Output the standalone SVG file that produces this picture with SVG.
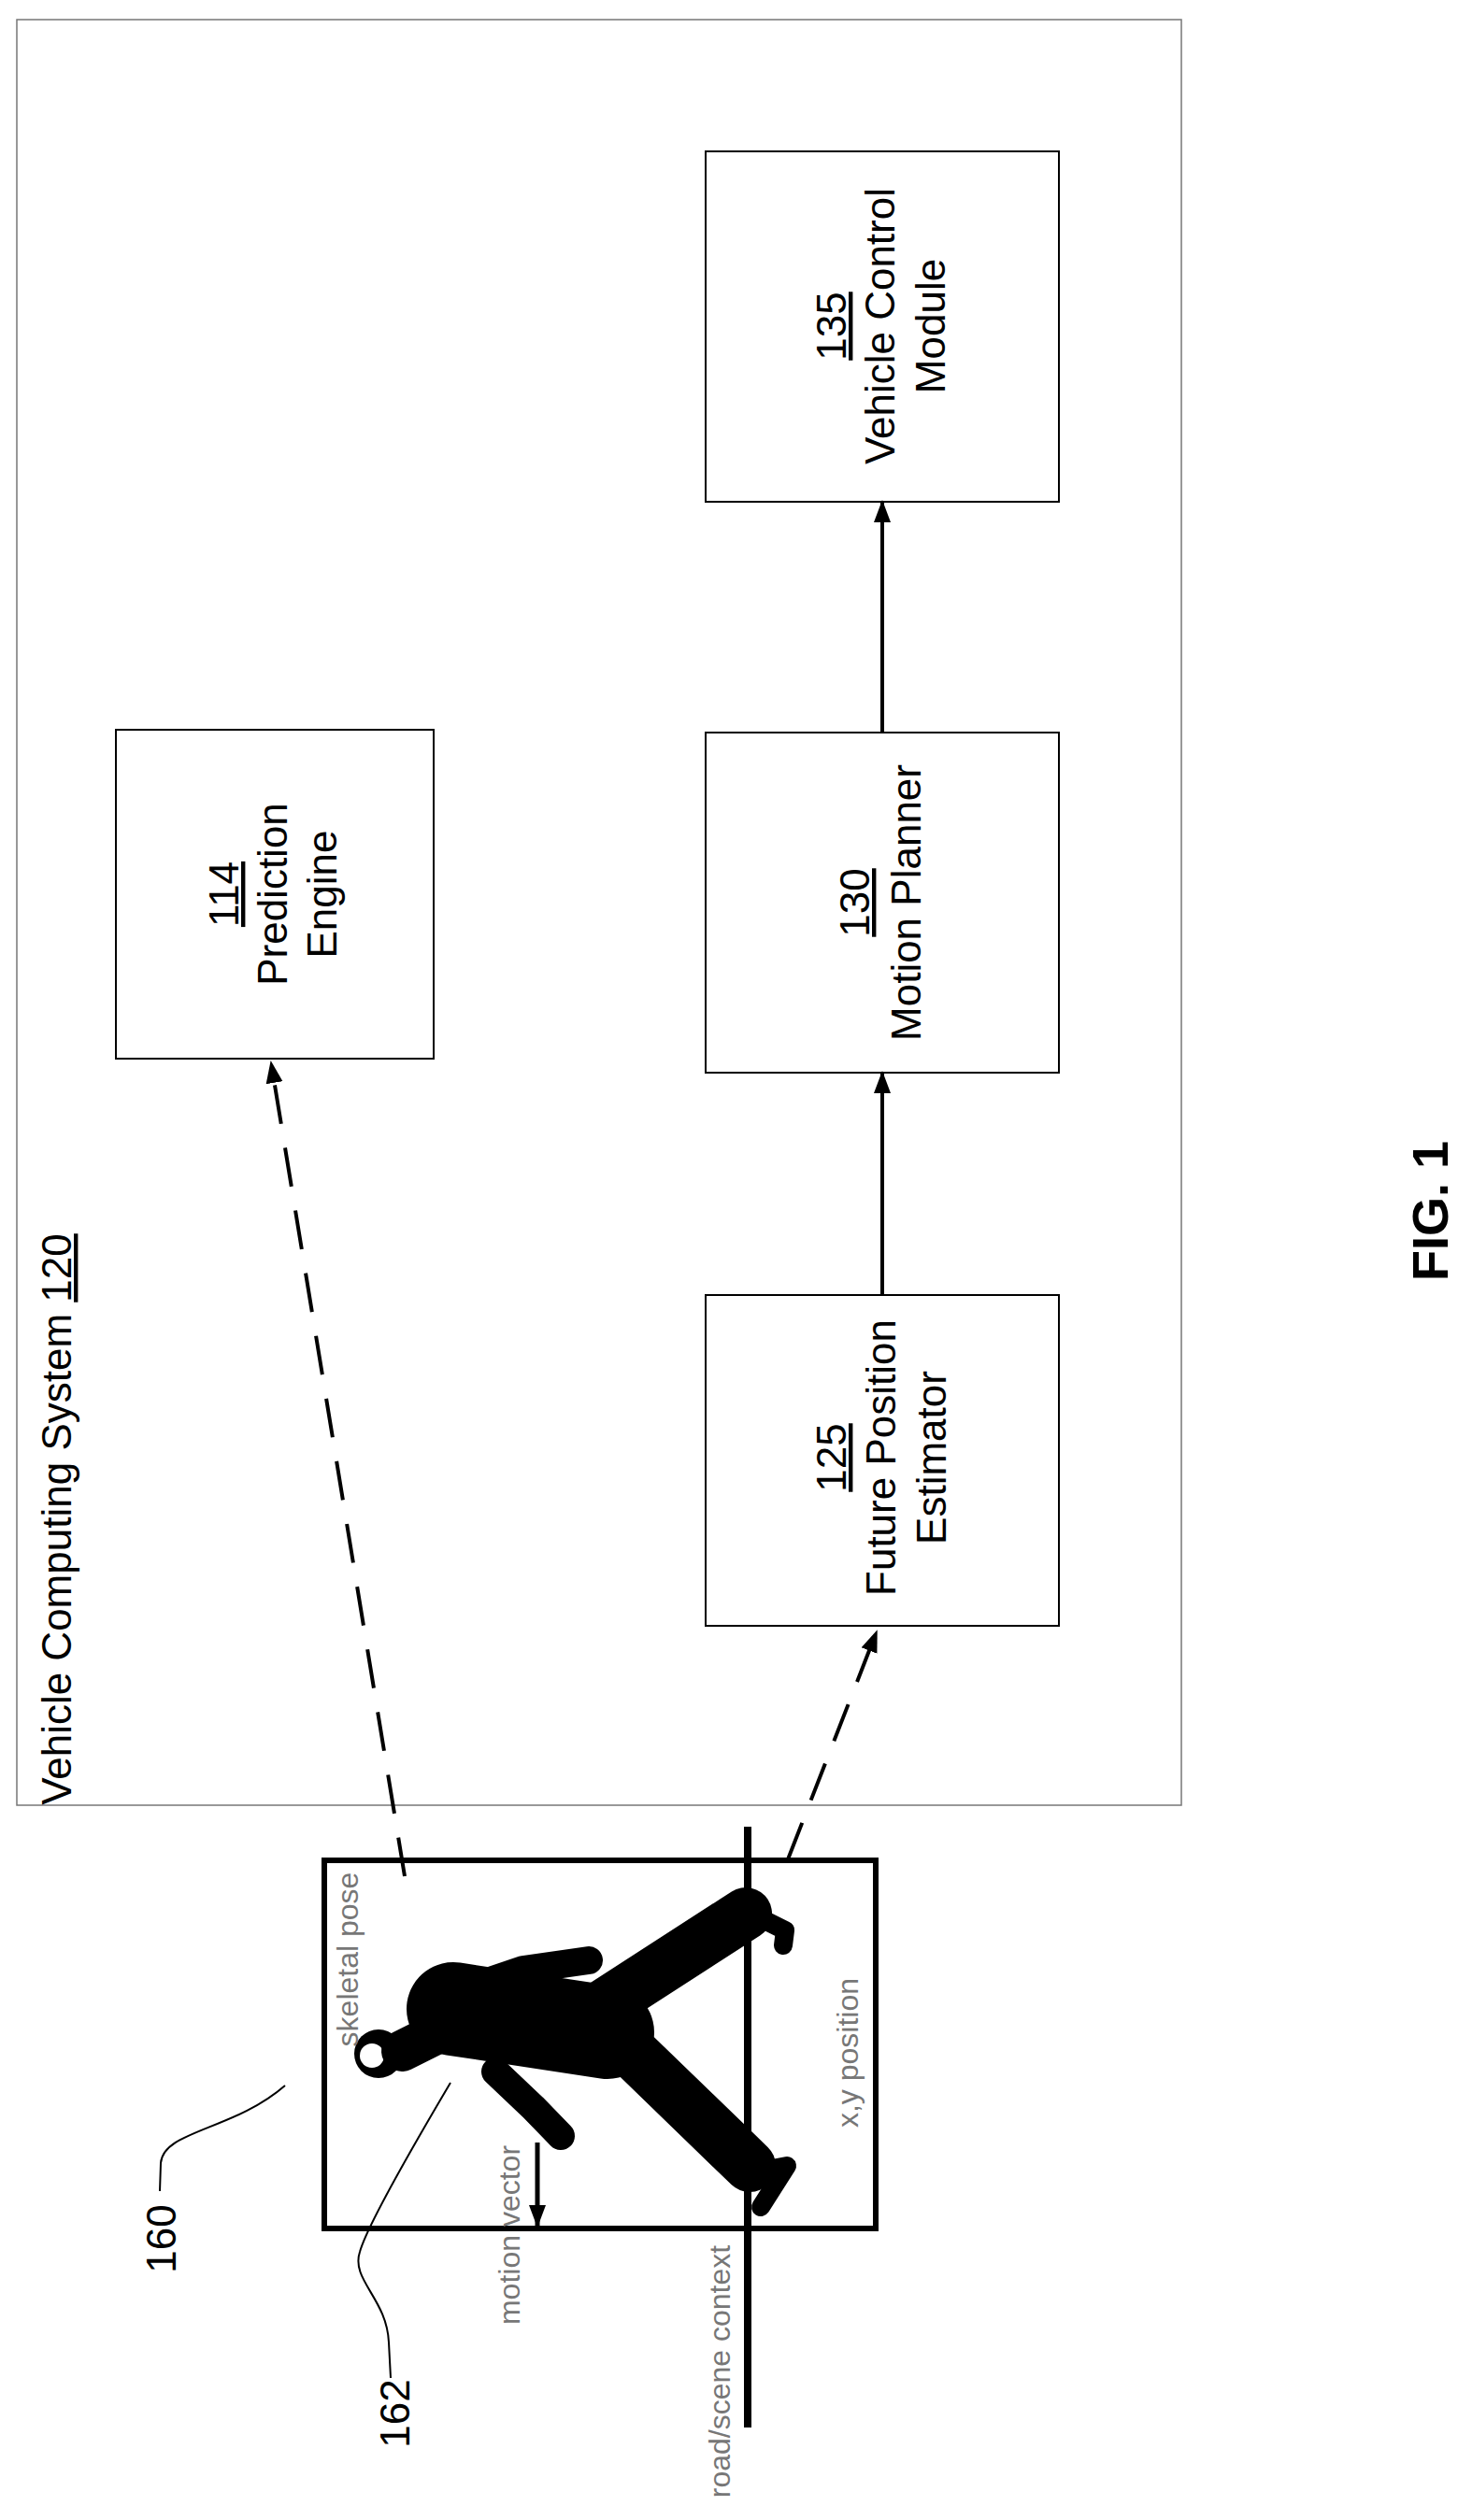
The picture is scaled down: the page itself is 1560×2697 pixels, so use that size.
<svg xmlns="http://www.w3.org/2000/svg" width="1560" height="2697" viewBox="0 0 1560 2697">
<style>
.box{fill:#fff;stroke:#000;stroke-width:2}
.t{font-family:"Liberation Sans",Arial,sans-serif;font-size:44px;fill:#000;text-anchor:middle}
.g{font-family:"Liberation Sans",Arial,sans-serif;font-size:32px;fill:#777;text-anchor:middle}
.ref{font-family:"Liberation Sans",Arial,sans-serif;font-size:44px;fill:#000;text-anchor:middle}
.solid{stroke:#000;stroke-width:4;fill:none}
.dash{stroke:#000;stroke-width:4;fill:none;stroke-dasharray:42 26}
.lead{stroke:#000;stroke-width:2;fill:none}
.fig{stroke:#000;stroke-linecap:round;stroke-linejoin:round;fill:none}
</style>
<defs>
<marker id="ah" markerUnits="userSpaceOnUse" markerWidth="24" markerHeight="24" viewBox="0 0 24 24" refX="22" refY="12" orient="auto">
<path d="M0,3 L24,12 L0,21 Z" fill="#000"/>
</marker>
</defs>
<rect width="1560" height="2697" fill="#fff"/>
<g id="vcs">
<rect x="18" y="21" width="1246" height="1911" fill="#fff" stroke="#777" stroke-width="1.5"/>
<text class="t" font-size="40" transform="translate(76,1626) rotate(-90)">Vehicle Computing System <tspan text-decoration="underline">120</tspan></text>
</g>
<g id="n135">
<rect class="box" x="755" y="162" width="378" height="375"/>
<text class="t" transform="translate(905,349) rotate(-90)"><tspan text-decoration="underline">135</tspan></text>
<text class="t" transform="translate(957,349) rotate(-90)">Vehicle Control</text>
<text class="t" transform="translate(1011,349) rotate(-90)">Module</text>
</g>
<g id="n114">
<rect class="box" x="124" y="781" width="340" height="352"/>
<text class="t" transform="translate(255,957) rotate(-90)"><tspan text-decoration="underline">114</tspan></text>
<text class="t" transform="translate(307,957) rotate(-90)">Prediction</text>
<text class="t" transform="translate(360,957) rotate(-90)">Engine</text>
</g>
<g id="n130">
<rect class="box" x="755" y="784" width="378" height="364"/>
<text class="t" transform="translate(930,966) rotate(-90)"><tspan text-decoration="underline">130</tspan></text>
<text class="t" transform="translate(985,966) rotate(-90)">Motion Planner</text>
</g>
<g id="n125">
<rect class="box" x="755" y="1386" width="378" height="354"/>
<text class="t" transform="translate(905,1560) rotate(-90)"><tspan text-decoration="underline">125</tspan></text>
<text class="t" transform="translate(958,1560) rotate(-90)">Future Position</text>
<text class="t" transform="translate(1012,1560) rotate(-90)">Estimator</text>
</g>
<g id="n160">
<rect x="347" y="1991" width="590" height="394" fill="none" stroke="#000" stroke-width="6"/>
<g class="fig">
<circle cx="405" cy="2198" r="26" fill="#000" stroke="none"/>
<circle cx="398" cy="2200" r="13" fill="#fff" stroke="none"/>
<path d="M430,2195 L480,2170" stroke-width="44"/>
<path d="M485,2150 L650,2175" stroke-width="100"/>
<path d="M492,2131 L560,2108 L630,2098" stroke-width="30"/>
<path d="M530,2217 L570,2255 L600,2286" stroke-width="30"/>
<path d="M640,2150 L798,2048" stroke-width="56"/>
<path d="M798,2045 L840,2066 L838,2082" stroke-width="20"/>
<path d="M675,2195 L802,2318" stroke-width="56"/>
<path d="M805,2325 L842,2318 L814,2362" stroke-width="20"/>
</g>
<line x1="800" y1="1955" x2="800" y2="2598" stroke="#000" stroke-width="8"/>
<text class="g" transform="translate(383,2097) rotate(-90)">skeletal pose</text>
<text class="g" transform="translate(556,2392) rotate(-90)">motion vector</text>
<line x1="575" y1="2293" x2="575" y2="2382" stroke="#000" stroke-width="5" marker-end="url(#ah)"/>
<text class="g" transform="translate(781,2538) rotate(-90)">road/scene context</text>
<text class="g" transform="translate(918,2197) rotate(-90)">x,y position</text>
<text class="ref" transform="translate(188,2396) rotate(-90)">160</text>
<path class="lead" d="M171,2345 L172,2315 C175,2280 250,2280 305,2232"/>
</g>
<g id="n162">
<text class="ref" transform="translate(438,2583) rotate(-90)">162</text>
<path class="lead" d="M418,2545 L416,2507 C414,2460 375,2440 385,2410 C392,2385 440,2300 482,2229"/>
</g>
<g id="connectors">
<line class="solid" x1="944" y1="784" x2="944" y2="537" marker-end="url(#ah)"/>
<line class="solid" x1="944" y1="1386" x2="944" y2="1148" marker-end="url(#ah)"/>
<line class="dash" x1="433" y1="2008" x2="290" y2="1137" marker-end="url(#ah)"/>
<line class="dash" x1="843" y1="1990" x2="938" y2="1746" marker-end="url(#ah)"/>
</g>
<text x="0" y="0" font-family="Liberation Sans,Arial,sans-serif" font-weight="bold" font-size="54" text-anchor="middle" transform="translate(1549,1296) rotate(-90)">FIG. 1</text>
</svg>
